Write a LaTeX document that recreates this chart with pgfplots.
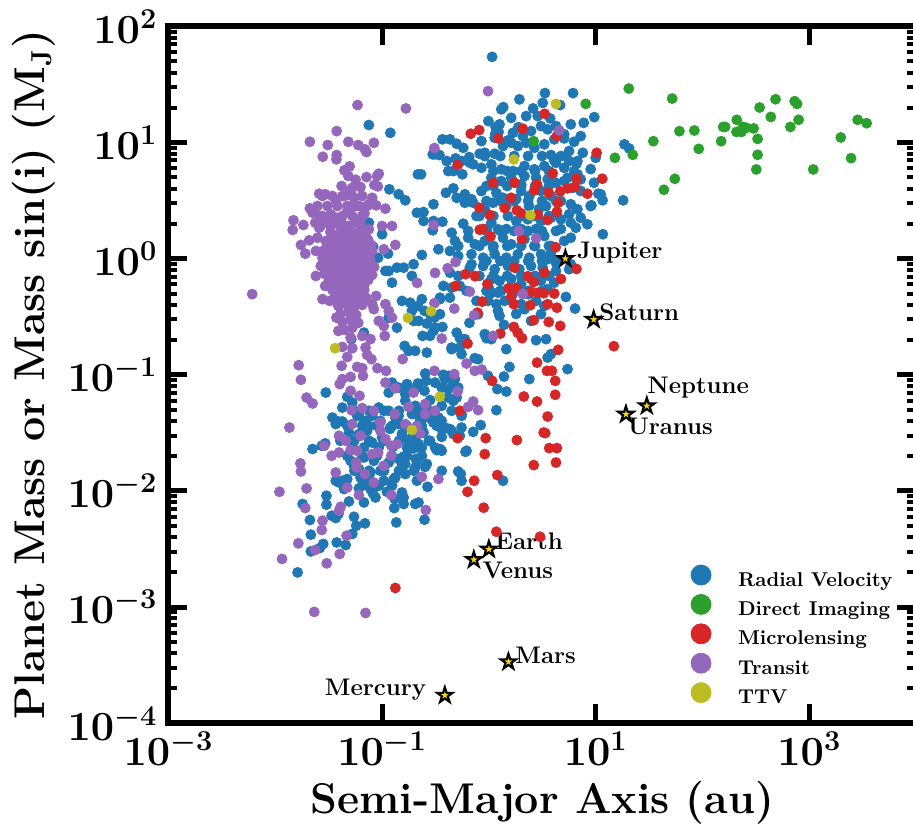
\documentclass[border=0pt]{standalone}
\usepackage{pgfplots}
\usepackage{pgfplotstable}
\pgfplotsset{compat=1.18}
\usetikzlibrary{calc}
\definecolor{rv}{HTML}{1F77B4}
\definecolor{di}{HTML}{2CA02C}
\definecolor{ml}{HTML}{D62728}
\definecolor{tr}{HTML}{9467BD}
\definecolor{ttv}{HTML}{BCBD22}
\definecolor{gold}{HTML}{FFD700}
\tikzset{plab/.style={font=\bfseries\fontsize{12}{14}\selectfont, inner sep=0pt}}
\pgfdeclareplotmark{fstar}{%
 \pgfpathmoveto{\pgfpointpolar{90}{\pgfplotmarksize}}%
 \pgfpathlineto{\pgfpointscale{0.382}{\pgfpointpolar{126}{\pgfplotmarksize}}}%
 \pgfpathlineto{\pgfpointpolar{162}{\pgfplotmarksize}}%
 \pgfpathlineto{\pgfpointscale{0.382}{\pgfpointpolar{198}{\pgfplotmarksize}}}%
 \pgfpathlineto{\pgfpointpolar{234}{\pgfplotmarksize}}%
 \pgfpathlineto{\pgfpointscale{0.382}{\pgfpointpolar{270}{\pgfplotmarksize}}}%
 \pgfpathlineto{\pgfpointpolar{306}{\pgfplotmarksize}}%
 \pgfpathlineto{\pgfpointscale{0.382}{\pgfpointpolar{342}{\pgfplotmarksize}}}%
 \pgfpathlineto{\pgfpointpolar{18}{\pgfplotmarksize}}%
 \pgfpathlineto{\pgfpointscale{0.382}{\pgfpointpolar{54}{\pgfplotmarksize}}}%
 \pgfpathclose
 \pgfusepathqfillstroke}

% values are log10(a/au) and log10(M/MJ)
\pgfplotstableread[row sep=\\]{lx ly\\
0.030 1.737\\ 0.286 1.371\\ 0.525 1.425\\ 0.788 1.425\\ 0.504 1.341\\ 0.667 1.322\\ 0.116 1.285\\ 0.135 1.304\\ 0.414 1.293\\ 0.209 1.212\\
0.457 1.227\\ 0.574 1.207\\ 0.987 1.218\\ 0.888 1.169\\ 0.767 1.156\\ 0.063 1.132\\ 0.100 1.156\\ 0.091 1.092\\ 0.277 1.132\\ 0.395 1.098\\
0.488 1.141\\ -0.435 1.027\\ -0.365 1.027\\ -0.302 0.989\\ -0.240 0.954\\ 0.054 1.040\\ 0.147 0.997\\ 0.209 0.997\\ 0.519 0.984\\ 0.705 1.035\\
0.798 1.006\\ 1.269 0.984\\ 1.313 0.949\\ 0.879 0.911\\ 1.000 0.868\\ -0.504 0.898\\ -0.463 0.892\\ -0.312 0.863\\ -0.184 0.874\\ -0.086 0.903\\
-0.039 0.911\\ 0.581 0.892\\ 0.612 0.846\\ 0.721 0.883\\ 0.751 0.840\\ 0.820 0.817\\ -0.665 0.726\\ -0.635 0.726\\ -0.333 0.754\\ -0.249 0.726\\
-0.147 0.812\\ 0.829 0.726\\ -0.402 0.567\\ -0.333 0.605\\ -0.783 0.502\\ -0.519 0.468\\ -0.302 0.524\\ -0.225 0.481\\ 1.025 0.559\\ 1.065 0.502\\
0.960 0.459\\ 1.257 0.502\\ -0.674 0.395\\ -0.612 0.401\\ -0.612 0.324\\ -0.519 0.324\\ -0.435 0.318\\ 0.829 0.425\\ 0.751 0.382\\ -0.240 0.301\\
-0.194 0.238\\ 0.767 0.309\\ -0.318 0.152\\ -0.287 0.109\\ -0.628 0.032\\ -0.473 0.081\\ -0.705 -0.048\\ -0.798 -0.078\\ -0.721 -0.149\\ -0.179 -0.078\\
1.067 0.210\\ 0.705 0.152\\ 0.628 -0.035\\ 0.767 -0.048\\ -0.426 -0.235\\ -0.458 -0.336\\ -0.365 -0.336\\ 0.007 -0.306\\ 0.085 -0.293\\ 0.721 -0.330\\
0.060 1.075\\ 0.178 1.018\\ 0.225 1.083\\ 0.318 1.055\\ 0.550 1.113\\ 0.612 1.027\\ 0.705 1.070\\ -0.039 0.883\\ 0.054 0.903\\ 0.132 0.969\\
0.271 0.969\\ 0.349 0.997\\ 0.426 0.954\\ 0.674 0.883\\ 0.751 0.926\\ 0.829 0.840\\ 0.798 0.754\\ -0.256 0.840\\ -0.179 0.825\\ -0.395 0.840\\
-0.070 0.782\\ 0.023 0.812\\ 0.116 0.769\\ 0.225 0.754\\ 0.333 0.797\\ 0.426 0.769\\ 0.519 0.797\\ 0.628 0.825\\ 0.705 0.782\\ 0.736 0.696\\
0.860 0.683\\ 0.984 0.653\\ 1.046 0.554\\ -0.380 0.754\\ -0.225 0.554\\ -0.163 0.511\\ -0.070 0.582\\ 0.023 0.696\\ 0.116 0.668\\ 0.209 0.696\\
0.302 0.640\\ 0.333 0.711\\ 0.442 0.696\\ 0.550 0.683\\ 0.628 0.653\\ 0.705 0.668\\ 0.783 0.610\\ 0.860 0.582\\ -0.039 0.425\\ 0.039 0.481\\
0.132 0.524\\ 0.302 0.582\\ 0.379 0.539\\ 0.488 0.582\\ 0.581 0.539\\ 0.674 0.496\\ 0.767 0.468\\ -0.116 0.367\\ -0.147 0.481\\ 0.178 0.367\\
0.256 0.324\\ 0.364 0.339\\ 0.488 0.324\\ 0.581 0.352\\ 0.674 0.339\\ 0.860 0.352\\ 0.953 0.453\\ 0.023 0.309\\ 0.085 0.253\\ -0.349 0.223\\
-0.194 0.180\\ -0.132 0.124\\ -0.039 0.152\\ 0.039 0.094\\ 0.132 0.180\\ 0.209 0.124\\ 0.333 0.167\\ 0.426 0.109\\ 0.519 0.195\\ 0.581 0.109\\
0.767 0.180\\ 0.814 0.266\\ 0.922 0.296\\ -0.365 0.066\\ -0.287 0.023\\ -0.163 0.038\\ -0.054 0.008\\ 0.054 0.038\\ 0.163 0.008\\ 0.271 0.038\\
0.379 0.008\\ 0.488 0.038\\ 0.581 0.051\\ 0.550 -0.005\\ -0.163 -0.048\\ -0.054 -0.063\\ 0.054 -0.091\\ 0.178 -0.063\\ 0.286 -0.091\\ 0.395 -0.063\\
0.504 -0.078\\ 0.751 -0.091\\ -0.365 -0.121\\ -0.287 -0.149\\ -0.349 -0.250\\ -0.272 -0.235\\ 0.023 -0.177\\ 0.100 -0.192\\ 0.302 -0.220\\ 0.488 -0.192\\
0.612 -0.207\\ 0.116 -0.278\\ 0.225 -0.301\\ 0.370 -0.306\\ 0.550 -0.263\\ -0.008 -0.364\\ 0.070 -0.392\\ 0.147 -0.364\\ 0.302 -0.392\\ 0.442 -0.364\\
0.519 -0.407\\ -0.101 -0.478\\ 0.085 -0.450\\ 0.100 -0.493\\ 0.333 -0.435\\ 0.488 -0.478\\ 0.807 -0.430\\ 0.141 -0.570\\ -0.302 -0.637\\ -0.225 -0.693\\
-0.039 -0.650\\ -0.023 -0.685\\ 0.023 -0.693\\ 0.442 -0.702\\ 0.535 -0.693\\ -0.349 -0.779\\ -0.256 -0.822\\ 0.163 -0.779\\ -0.132 -0.857\\ -0.101 -0.865\\
0.550 -0.852\\ 0.581 -0.822\\ 0.736 -0.951\\ 0.193 -0.932\\ -0.380 -1.009\\ -0.318 -1.037\\ -0.008 -1.009\\ 0.141 -1.015\\ 0.379 -1.037\\ 0.079 -1.123\\
0.163 -1.144\\ -0.442 -1.110\\ -0.380 -1.123\\ -0.287 -1.110\\ -0.380 -1.196\\ -0.302 -1.196\\ -0.442 -1.267\\ -0.349 -1.310\\ -0.256 -1.353\\ 0.070 -1.304\\
-0.077 -1.433\\ -0.147 -1.491\\ -0.442 -1.467\\ -0.365 -1.467\\ -0.272 -1.525\\ -0.442 -1.654\\ -0.219 -1.663\\ -0.287 -1.832\\ -0.263 -1.854\\ 0.132 -1.912\\
-0.256 -1.912\\ -0.442 -1.826\\ -0.705 -0.536\\ -0.659 -0.536\\ -0.581 -0.559\\ -0.621 -0.665\\ -0.551 -0.665\\ -0.519 -0.622\\ -0.504 -0.594\\ -0.435 -0.588\\
-0.789 -0.751\\ -0.752 -0.794\\ -0.690 -0.794\\ -0.581 -0.809\\ -0.272 -0.766\\ -0.272 -0.685\\ -0.588 -1.052\\ -0.665 -1.075\\ -0.752 -1.115\\ -0.783 -1.224\\
-0.635 -1.310\\ -0.581 -1.287\\ -0.674 -1.338\\ -0.644 -1.396\\ -0.551 -1.353\\ -0.411 -1.454\\ -0.783 -1.454\\ -0.752 -1.562\\ -0.690 -1.562\\ -0.628 -1.626\\
-0.488 -1.648\\ -0.767 -1.697\\ -0.674 -1.740\\ -0.597 -1.792\\ -0.814 -1.768\\ -0.690 -1.798\\ -0.442 -1.534\\ -0.575 -1.964\\ -0.603 -2.247\\ -0.690 -2.112\\
-0.659 -2.099\\ -0.504 -1.626\\ -0.814 -2.013\\ -0.798 -2.112\\ -0.923 1.083\\ -1.124 1.150\\ -0.932 0.597\\ -0.845 0.554\\ -0.907 -0.207\\ -0.938 -0.106\\
-0.861 -0.078\\ -0.814 -0.364\\ -0.737 -0.379\\ -0.721 -0.450\\ -0.603 -0.450\\ -0.938 -0.508\\ -0.861 -0.594\\ -0.458 -0.478\\ -0.510 -0.508\\ -0.349 -0.766\\
-0.597 -0.989\\ -0.426 -1.000\\ -0.333 -1.067\\ -0.938 -1.153\\ -0.861 -1.110\\ -0.767 -1.080\\ -0.690 -1.267\\ -0.551 -1.218\\ -0.333 -1.224\\ -0.256 -1.338\\
-0.519 -1.411\\ -0.923 -1.454\\ -0.876 -1.368\\ -0.458 -1.639\\ -0.333 -1.510\\ -0.256 -1.454\\ -0.209 -1.654\\ -0.581 -1.768\\ -0.876 -1.884\\ -0.628 -0.349\\
-0.458 -0.349\\ -0.665 -0.407\\ -0.551 -0.478\\ -0.907 -1.067\\ -0.504 -1.067\\ -0.411 -1.037\\ -1.527 -1.153\\ -1.326 -1.190\\ -1.279 -1.239\\ -0.845 -1.110\\
-0.783 -1.166\\ -0.737 -1.123\\ -0.659 -1.104\\ -0.603 -1.138\\ -1.372 -1.282\\ -1.217 -1.338\\ -1.093 -1.353\\ -1.031 -1.282\\ -0.938 -1.310\\ -0.845 -1.353\\
-0.721 -1.338\\ -0.566 -1.368\\ -0.473 -1.368\\ -1.465 -1.368\\ -1.434 -1.424\\ -1.170 -1.411\\ -1.124 -1.439\\ -0.526 0.898\\ -0.526 0.244\\ -1.000 0.210\\
-1.084 0.103\\ -1.037 0.008\\ -0.944 0.043\\ -1.124 0.309\\ -0.969 -0.106\\ -1.288 -0.693\\ -1.170 -0.637\\ -1.409 -1.402\\ -1.651 -1.639\\ -1.565 -1.611\\
-1.533 -1.591\\ -1.403 -1.927\\ -1.356 -1.983\\ -1.744 -2.112\\ -1.676 -2.250\\ -1.521 -2.041\\ -1.521 -2.118\\ -1.310 -2.090\\ -1.472 -2.213\\ -1.434 -2.233\\
-1.409 -2.198\\ -1.263 -2.222\\ -1.242 -2.299\\ -1.161 -2.279\\ -1.279 -2.370\\ -1.667 -2.376\\ -1.551 -2.456\\ -1.583 -2.491\\ -1.667 -2.520\\ -1.425 -2.443\\
-1.341 -2.465\\ -1.791 -2.701\\ -0.867 -2.271\\ -0.798 -2.056\\ -0.882 -2.069\\ -0.886 -2.147\\ -1.062 -2.056\\ -1.086 -2.021\\ -1.170 -2.099\\ -1.217 -1.978\\
-0.984 -1.912\\ -0.891 -1.897\\ -0.684 -1.725\\ -0.705 -1.634\\ -0.798 -1.703\\ -0.349 -1.482\\ -1.295 -1.740\\ -1.263 -1.783\\ -1.434 -1.912\\ -1.372 -1.912\\
-1.372 -1.402\\ -1.233 -1.353\\ -1.155 -1.396\\ -1.093 -1.325\\ -1.016 -1.396\\ -0.845 -1.424\\ -0.535 -1.325\\ -0.442 -1.396\\ -1.310 -1.497\\ -1.217 -1.510\\
-1.140 -1.482\\ -1.093 -1.583\\ -1.000 -1.540\\ -0.814 -1.510\\ -0.721 -1.540\\ -0.612 -1.497\\ -0.551 -1.568\\ -1.279 -1.596\\ -1.170 -1.626\\ -1.031 -1.626\\
-0.767 -1.626\\ -0.659 -1.596\\ -1.170 -1.712\\ -1.077 -1.740\\ -0.938 -1.755\\ -0.845 -1.725\\ -0.783 -1.768\\ -1.217 -1.811\\ -1.109 -1.841\\ -1.016 -1.826\\
-1.326 -1.897\\ -1.202 -1.884\\ -1.124 -1.912\\ -1.031 -1.955\\ -1.109 -1.983\\ -0.954 -2.007\\ -0.674 -1.912\\ -0.783 -1.854\\ -0.898 -1.620\\ -0.926 -1.465\\
-1.391 -1.568\\ -0.023 0.625\\ 0.070 0.565\\ 0.163 0.453\\ 0.256 0.513\\ 0.376 0.453\\ 0.469 0.427\\ -0.023 0.255\\ 0.163 0.255\\ 0.302 0.255\\
0.442 0.255\\ -0.089 -0.149\\ 0.209 -0.175\\ 0.395 -0.175\\ 0.004 -0.261\\ 0.256 -0.476\\ 0.395 -0.536\\ 0.628 -0.106\\ -0.070 1.012\\ -0.005 1.184\\
0.349 1.227\\ 0.628 1.141\\ 0.860 1.055\\ 0.953 0.771\\ 0.535 0.453\\ 0.674 0.255\\ -0.209 -0.278\\ -0.116 -0.364\\ -0.182 -0.553\\
0.042 0.625\\ 0.172 0.625\\ 0.302 0.625\\ 0.432 0.625\\ 0.562 0.625\\
-0.023 0.496\\ 0.107 0.496\\ 0.237 0.496\\ 0.367 0.496\\ 0.497 0.496\\ 0.628 0.496\\
-0.089 0.367\\ 0.042 0.367\\ 0.302 0.367\\ 0.432 0.367\\ 0.562 0.367\\
-0.023 0.238\\ 0.107 0.238\\ 0.237 0.238\\ 0.367 0.238\\ 0.497 0.238\\ 0.628 0.238\\
-0.089 0.109\\ 0.042 0.109\\ 0.172 0.109\\ 0.302 0.109\\ 0.432 0.109\\ 0.562 0.109\\
-0.023 -0.020\\ 0.107 -0.020\\ 0.237 -0.020\\ 0.367 -0.020\\ 0.497 -0.020\\ 0.628 -0.020\\
0.042 -0.149\\ 0.172 -0.149\\ 0.302 -0.149\\ 0.432 -0.149\\ 0.562 -0.149\\
-0.023 -0.278\\ 0.107 -0.278\\ 0.237 -0.278\\ 0.367 -0.278\\ 0.497 -0.278\\
0.042 0.754\\ 0.172 0.754\\ 0.302 0.754\\ 0.432 0.754\\ 0.562 0.754\\
0.107 0.883\\ 0.237 0.883\\ 0.367 0.883\\ 0.497 0.883\\
-1.260 -1.310\\ -1.121 -1.310\\ -0.981 -1.310\\ -0.842 -1.310\\ -0.702 -1.310\\ -0.563 -1.310\\
-1.326 -1.439\\ -1.186 -1.439\\ -1.047 -1.439\\ -0.907 -1.439\\ -0.768 -1.439\\ -0.628 -1.439\\ -0.489 -1.439\\
-1.260 -1.568\\ -1.121 -1.568\\ -0.981 -1.568\\ -0.842 -1.568\\ -0.702 -1.568\\ -0.563 -1.568\\
-1.326 -1.697\\ -1.186 -1.697\\ -1.047 -1.697\\ -0.907 -1.697\\ -0.768 -1.697\\ -0.628 -1.697\\
-1.260 -1.826\\ -1.121 -1.826\\ -0.981 -1.826\\ -0.842 -1.826\\ -0.702 -1.826\\
-1.186 -1.955\\ -1.047 -1.955\\ -0.907 -1.955\\
}\tblRV

\pgfplotstableread[row sep=\\]{lx ly\\
0.907 1.332\\ 1.310 1.464\\ 1.716 1.378\\ 0.420 1.011\\ 1.180 0.868\\ 1.347 0.894\\ 1.540 1.011\\ 1.784 1.097\\ 1.924 1.103\\ 1.965 0.945\\
1.741 0.687\\ 1.639 0.593\\ 2.175 1.011\\ 2.194 1.134\\ 2.212 1.134\\ 2.321 1.195\\ 2.318 1.091\\ 2.365 1.091\\ 2.380 1.134\\ 2.411 1.126\\
2.479 1.121\\ 2.516 1.031\\ 2.516 0.894\\ 2.504 0.768\\ 2.535 1.301\\ 2.640 1.220\\ 2.684 1.372\\ 2.823 1.134\\ 2.863 1.355\\ 2.886 1.332\\
2.900 1.195\\ 3.037 0.768\\ 3.295 1.043\\ 3.391 0.865\\ 3.453 1.195\\ 3.537 1.166\\
}\tblDI

\pgfplotstableread[row sep=\\]{lx ly\\
0.522 1.247\\ -0.170 1.075\\ -0.091 1.107\\ 0.318 1.118\\ 0.088 1.035\\ 0.637 1.055\\ 1.009 0.911\\ -0.293 0.806\\ 0.597 0.734\\ 1.062 0.688\\
0.820 0.688\\ 0.039 0.651\\ 0.240 0.653\\ 0.451 0.640\\ 0.426 0.588\\ 0.560 0.567\\ 0.668 0.579\\ 0.736 0.605\\ 0.807 0.616\\ 0.922 0.559\\
0.646 0.481\\ 0.209 0.524\\ -0.089 0.438\\ 0.147 0.436\\ 0.262 0.416\\ 0.302 0.390\\ 0.007 0.376\\ 0.457 0.378\\ 0.637 0.404\\ 0.550 0.333\\
-0.086 0.249\\ -0.058 0.255\\ 0.309 0.169\\ 0.016 0.192\\ 0.625 0.098\\ 0.240 -0.078\\ -0.219 -0.134\\ -0.129 -0.152\\ 0.364 -0.152\\ 0.519 -0.121\\
0.420 -0.201\\ 0.674 -0.175\\ 0.820 -0.089\\ -0.014 -0.218\\ -0.312 -0.235\\ 0.184 -0.255\\ 0.256 -0.252\\ 0.392 -0.284\\ 0.457 -0.295\\ 0.513 -0.298\\
0.612 -0.301\\ 0.209 -0.330\\ -0.063 -0.370\\ 0.233 -0.392\\ 0.388 -0.401\\ 0.550 -0.392\\ 0.637 -0.422\\ -0.107 -0.465\\ 0.420 -0.530\\ 0.560 -0.545\\
0.668 -0.579\\ 0.233 -0.588\\ 0.270 -0.637\\ 0.310 -0.685\\ 0.107 -0.645\\ -0.200 -0.731\\ 0.649 -0.785\\ 0.451 -0.895\\ 0.544 -0.966\\ 0.590 -0.966\\
0.030 -1.052\\ 0.621 -1.052\\ 0.621 -1.172\\ 0.327 -1.187\\ 0.451 -1.230\\ 0.550 -1.359\\ 0.513 -1.497\\ 0.528 -1.502\\ 0.262 -1.562\\ -0.030 -1.545\\
-0.293 -1.545\\ 0.565 -1.631\\ 0.637 -1.631\\ -0.039 -1.683\\ 0.420 -1.777\\ 0.628 -1.755\\ 0.079 -1.863\\ -0.138 -1.912\\ -0.200 -2.007\\ -0.049 -2.144\\
0.070 -2.351\\ 0.479 -2.394\\ 1.170 -0.754\\ -0.271 -1.310\\ -0.876 -2.835\\
}\tblML

\pgfplotstableread[row sep=\\]{lx ly\\
-1.230 1.322\\ -0.777 1.293\\ -1.425 1.098\\ -1.676 1.006\\ -1.509 0.978\\ -1.316 1.006\\ -1.223 0.978\\ -1.077 0.997\\ -1.161 0.941\\ -1.146 0.917\\
-1.555 0.877\\ -1.425 0.892\\ -1.428 0.855\\ -0.510 0.952\\ -1.304 0.794\\ -1.353 0.760\\ -1.316 0.711\\ -1.248 0.679\\ -1.146 0.702\\ -1.047 0.711\\
-1.031 0.731\\ -1.379 0.625\\ -1.304 0.582\\ -1.279 0.610\\ -1.202 0.616\\ -1.072 0.634\\ -1.040 0.622\\ -1.589 0.559\\ -1.533 0.554\\ -1.434 0.502\\
-1.356 0.539\\ -1.263 0.524\\ -1.093 0.524\\ -1.124 0.468\\ -1.056 0.459\\ -1.676 0.433\\ -1.651 0.395\\ -1.583 0.367\\ -1.481 0.382\\ -1.403 0.352\\
-1.326 0.410\\ -1.279 0.444\\ -1.217 0.453\\ -1.165 0.390\\ -0.969 0.430\\ -1.830 0.330\\ -1.837 0.247\\ -1.737 0.290\\ -1.626 0.309\\ -1.589 0.266\\
-1.533 0.339\\ -1.465 0.296\\ -1.388 0.324\\ -1.326 0.281\\ -1.242 0.324\\ -1.202 0.309\\ -1.124 0.253\\ -1.000 0.281\\ -0.907 0.281\\ -1.760 0.118\\
-1.719 0.043\\ -1.682 0.158\\ -1.605 0.180\\ -1.527 0.152\\ -1.465 0.210\\ -1.403 0.167\\ -1.341 0.223\\ -1.295 0.180\\ -1.233 0.210\\ -1.170 0.167\\
-0.984 0.081\\ -0.876 0.118\\ -1.620 0.066\\ -1.496 0.094\\ -1.403 0.066\\ -1.310 0.081\\ -1.217 0.038\\ -0.516 0.290\\ -1.620 -0.149\\ -2.216 -0.306\\
-1.574 -0.063\\ -1.533 -0.235\\ -1.558 -0.349\\ -1.490 -0.364\\ -1.428 -0.508\\ -1.409 -0.622\\ -1.403 -0.407\\ -1.295 -0.680\\ -1.186 -0.665\\ -1.109 -0.693\\
-1.056 -0.321\\ -1.093 -0.392\\ -1.077 -0.435\\ -0.969 -0.392\\ -0.938 -0.450\\ -1.031 -0.536\\ -0.984 -0.579\\ -0.975 -0.665\\ -0.907 -0.508\\ -1.155 -0.766\\
-1.372 -0.760\\ -1.279 -0.771\\ -1.326 -0.846\\ -1.379 -0.923\\ -1.233 -0.932\\ -1.186 -0.943\\ -1.140 -0.828\\ -1.100 -0.865\\ -1.044 -0.943\\ -0.963 -0.966\\
-1.179 -1.009\\ -1.295 -1.018\\ -1.372 -1.037\\ -1.397 -1.080\\ -1.781 -0.917\\ -1.760 -1.043\\ -1.707 -1.196\\ -1.651 -1.247\\ -1.868 -1.454\\ -0.807 -0.865\\
-0.672 -0.209\\ -0.510 -0.384\\ -0.504 -0.123\\ -0.386 -0.083\\ -0.442 -0.688\\ -0.510 -0.966\\ -0.876 -1.115\\ -0.705 -1.153\\ -1.295 -1.138\\ -1.211 -1.181\\
-1.286 -1.304\\ -1.186 -1.287\\ -1.077 -1.310\\ -0.882 -1.338\\ -0.752 -1.276\\ -0.597 -1.252\\ -0.504 -1.310\\ -1.279 -1.424\\ -1.016 -1.411\\ -0.783 -1.424\\
-0.674 -1.439\\ -1.016 -1.482\\ -0.597 -1.338\\ -0.194 -1.276\\ -0.644 -1.505\\ -1.403 -1.525\\ -1.341 -1.568\\ -1.202 -1.525\\ -1.542 -1.611\\ -1.295 -1.648\\
-1.233 -1.654\\ -0.969 -1.553\\ -0.914 -1.611\\ -0.861 -1.596\\ -1.093 -1.682\\ -1.037 -1.669\\ -1.472 -1.697\\ -1.403 -1.669\\ -0.914 -1.697\\ -1.242 -1.755\\
-1.239 -1.798\\ -0.984 -1.783\\ -1.765 -1.763\\ -1.760 -1.832\\ -1.434 -1.841\\ -1.161 -1.854\\ -1.077 -1.927\\ -0.628 -1.878\\ -0.473 -1.897\\ -1.961 -2.007\\
-1.707 -1.978\\ -1.326 -1.970\\ -1.217 -2.035\\ -0.914 -2.035\\ -1.719 -2.147\\ -1.388 -2.136\\ -1.403 -2.170\\ -0.591 -2.164\\ -1.558 -2.256\\ -1.565 -2.336\\
-1.784 -2.451\\ -1.332 -2.385\\ -1.626 -2.508\\ -1.397 -2.542\\ -1.937 -2.585\\ -1.518 -2.623\\ -1.635 -3.041\\ -1.155 -3.050\\ -0.008 1.442\\ -0.312 -0.029\\
-0.179 -0.284\\ -0.324 -0.430\\ -0.138 -0.487\\ -0.209 -0.903\\ -0.132 -0.966\\ -0.067 -0.955\\ -0.324 -0.994\\ -0.969 -1.067\\ -0.293 -1.144\\ -0.101 -1.304\\
-0.147 -1.230\\ 0.658 1.104\\ 0.281 0.238\\ 0.442 0.175\\ 0.318 -0.306\\ 0.039 -0.665\\
-1.484 0.229\\ -1.381 0.247\\ -1.270 0.221\\ -1.177 0.238\\
-1.512 0.143\\ -1.437 0.161\\ -1.353 0.135\\ -1.288 0.152\\ -1.214 0.143\\ -1.130 0.161\\
-1.539 0.075\\ -1.456 0.092\\ -1.381 0.066\\ -1.316 0.092\\ -1.242 0.075\\ -1.167 0.083\\ -1.093 0.066\\
-1.558 0.006\\ -1.484 0.023\\ -1.409 -0.003\\ -1.335 0.023\\ -1.260 0.006\\ -1.186 0.014\\ -1.112 -0.003\\
-1.521 -0.063\\ -1.446 -0.046\\ -1.372 -0.072\\ -1.298 -0.054\\ -1.223 -0.063\\ -1.149 -0.046\\ -1.074 -0.072\\
-1.539 -0.132\\ -1.465 -0.115\\ -1.391 -0.140\\ -1.316 -0.123\\ -1.242 -0.132\\ -1.167 -0.115\\ -1.093 -0.140\\
-1.502 -0.201\\ -1.428 -0.183\\ -1.353 -0.209\\ -1.279 -0.192\\ -1.205 -0.201\\ -1.130 -0.183\\
-1.465 -0.269\\ -1.391 -0.252\\ -1.316 -0.278\\ -1.242 -0.261\\ -1.167 -0.269\\
-1.446 -0.338\\ -1.372 -0.321\\ -1.298 -0.347\\ -1.223 -0.330\\ -1.149 -0.338\\
-1.409 -0.407\\ -1.335 -0.390\\ -1.260 -0.416\\ -1.186 -0.398\\
-1.391 -0.476\\ -1.316 -0.459\\ -1.242 -0.485\\
-1.372 -0.545\\ -1.298 -0.527\\ -1.223 -0.553\\
-1.353 -0.613\\ -1.279 -0.596\\
-1.428 0.186\\ -1.335 0.186\\ -1.242 0.186\\ -1.149 0.186\\
-1.474 0.118\\ -1.400 0.118\\ -1.326 0.118\\ -1.251 0.118\\ -1.177 0.118\\ -1.102 0.118\\
-1.502 0.049\\ -1.428 0.049\\ -1.353 0.049\\ -1.279 0.049\\ -1.205 0.049\\ -1.130 0.049\\
-1.521 -0.020\\ -1.446 -0.020\\ -1.372 -0.020\\ -1.298 -0.020\\ -1.223 -0.020\\ -1.149 -0.020\\
-1.484 -0.089\\ -1.409 -0.089\\ -1.335 -0.089\\ -1.260 -0.089\\ -1.186 -0.089\\ -1.112 -0.089\\
-1.502 -0.158\\ -1.428 -0.158\\ -1.353 -0.158\\ -1.279 -0.158\\ -1.205 -0.158\\ -1.130 -0.158\\
-1.465 -0.227\\ -1.391 -0.227\\ -1.316 -0.227\\ -1.242 -0.227\\ -1.167 -0.227\\
-1.428 -0.295\\ -1.353 -0.295\\ -1.279 -0.295\\ -1.205 -0.295\\
-1.391 -0.364\\ -1.316 -0.364\\ -1.242 -0.364\\ -1.167 -0.364\\
-1.558 0.539\\ -1.465 0.539\\ -1.372 0.539\\ -1.279 0.539\\ -1.186 0.539\\
-1.605 0.453\\ -1.512 0.453\\ -1.419 0.453\\ -1.326 0.453\\ -1.233 0.453\\ -1.140 0.453\\
-1.558 0.367\\ -1.465 0.367\\ -1.372 0.367\\ -1.279 0.367\\ -1.186 0.367\\
-1.577 0.281\\ -1.484 0.281\\ -1.391 0.281\\ -1.298 0.281\\ -1.205 0.281\\
}\tblTR

\pgfplotstableread[row sep=\\]{lx ly\\
0.628 1.332\\ 0.234 0.854\\ 0.389 0.373\\ -0.758 -0.510\\ -0.541 -0.453\\ -1.440 -0.771\\ -0.460 -1.189\\ -0.721 -1.475\\
}\tblTTV

\begin{document}
\begin{tikzpicture}
\begin{axis}[
  xmode=log, ymode=log,
  scale only axis, width=373.8pt, height=348.5pt,
  xmin=1e-3, xmax=1e4, ymin=1e-4, ymax=1e2,
  xtick={1e-3,1e-1,1e1,1e3}, xminorticks=false,
  ytick={1e-4,1e-3,1e-2,1e-1,1,1e1,1e2},
  tick align=inside, tick pos=both,
  major tick length=9.5pt, minor tick length=4.5pt,
  major tick style={line width=2.5pt, black},
  minor tick style={line width=2pt, black},
  axis line style={line width=3pt, black},
  axis on top,
  tick label style={font=\boldmath\fontsize{20.5}{24}\selectfont},
  xticklabel style={inner sep=0pt, yshift=-4.2pt},
  yticklabel style={inner sep=0pt, xshift=-5.4pt},
  xlabel={Semi-Major Axis (au)},
  ylabel={Planet Mass or Mass sin(i) (M$_{\mathbf{J}}$)},
  every axis x label/.style={at={(rel axis cs:0.5,0)}, anchor=base, yshift=-44.85pt,
    font=\bfseries\fontsize{21.5}{26}\selectfont},
  every axis y label/.style={at={(rel axis cs:0,0.5)}, xshift=-61.75pt, rotate=90, anchor=base,
    font=\bfseries\fontsize{21.5}{26}\selectfont},
  legend style={draw=none, fill=none, at={(0.699,0.2271)}, anchor=north west,
    inner sep=0pt, outer sep=0pt, row sep=2.2pt,
    font=\bfseries\fontsize{10}{12}\selectfont,
    nodes={inner sep=0pt, text height=7pt, text depth=2pt},
    /tikz/every odd column/.append style={column sep=13.5pt}},
  legend cell align=left,
  legend image code/.code={\draw[#1, mark size=5pt] plot coordinates {(0pt,3pt)};},
]
\addplot[only marks, mark=*, mark size=2.5pt, color=rv, mark options={draw=none}]
  table[x expr=10^(\thisrow{lx}), y expr=10^(\thisrow{ly})] {\tblRV};
\addlegendentry{Radial Velocity}
\addplot[only marks, mark=*, mark size=2.5pt, color=di, mark options={draw=none}]
  table[x expr=10^(\thisrow{lx}), y expr=10^(\thisrow{ly})] {\tblDI};
\addlegendentry{Direct Imaging}
\addplot[only marks, mark=*, mark size=2.5pt, color=ml, mark options={draw=none}]
  table[x expr=10^(\thisrow{lx}), y expr=10^(\thisrow{ly})] {\tblML};
\addlegendentry{Microlensing}
\addplot[only marks, mark=*, mark size=2.5pt, color=tr, mark options={draw=none}]
  table[x expr=10^(\thisrow{lx}), y expr=10^(\thisrow{ly})] {\tblTR};
\addlegendentry{Transit}
\addplot[only marks, mark=*, mark size=2.5pt, color=ttv, mark options={draw=none}]
  table[x expr=10^(\thisrow{lx}), y expr=10^(\thisrow{ly})] {\tblTTV};
\addlegendentry{TTV}
\addplot[forget plot, only marks, mark=fstar, mark size=4pt,
  mark options={fill=gold, draw=black, line width=1.1pt}]
  coordinates {(0.387,1.74e-4) (0.723,2.56e-3) (1.0,3.15e-3) (1.524,3.38e-4)
               (5.2,1.0) (9.58,0.299) (19.2,0.0457) (30.1,0.054)};
\node[plab, anchor=base west] at ([xshift=5.65pt]axis cs:5.2,1) {Jupiter};
\node[plab, anchor=base west] at ([xshift=2.65pt,yshift=-0.6pt]axis cs:9.58,0.299) {Saturn};
\node[plab, anchor=base west] at ([xshift=0.25pt,yshift=5.95pt]axis cs:30.1,0.054) {Neptune};
\node[plab, anchor=base west] at ([xshift=0.85pt,yshift=-10pt]axis cs:19.2,0.0457) {Uranus};
\node[plab, anchor=base west] at ([xshift=3.05pt]axis cs:1,3.15e-3) {Earth};
\node[plab, anchor=base west] at ([xshift=4.2pt,yshift=-9.3pt]axis cs:0.723,2.56e-3) {Venus};
\node[plab, anchor=base west] at ([xshift=3.3pt,yshift=-0.7pt]axis cs:1.524,3.38e-4) {Mars};
\node[plab, anchor=base east] at ([xshift=-9.1pt,yshift=-0.3pt]axis cs:0.387,1.74e-4) {Mercury};
\coordinate (bl) at (rel axis cs:0,0);
\coordinate (tr) at (rel axis cs:1,1);
\end{axis}
\pgfresetboundingbox
\path[use as bounding box] ($(bl)+(-84.25pt,-51.35pt)$) rectangle ($(tr)+(-1.55pt,13.15pt)$);
\end{tikzpicture}
\end{document}
